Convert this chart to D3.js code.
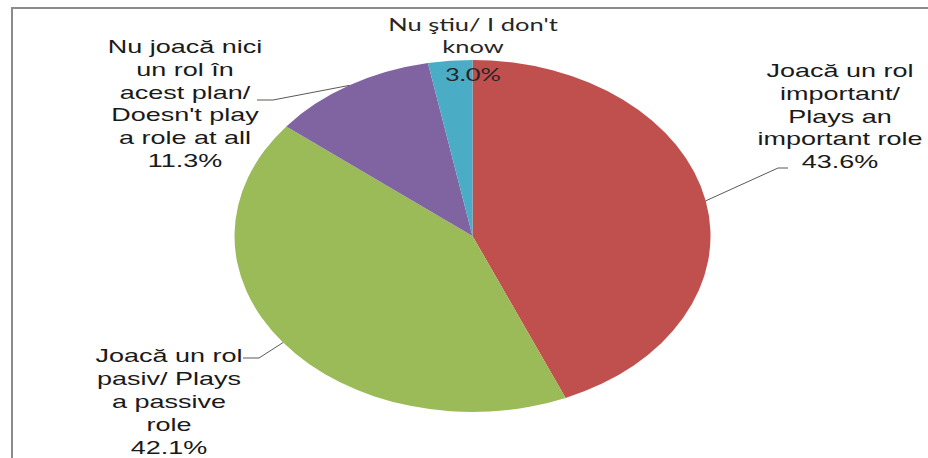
<!DOCTYPE html>
<html>
<head>
<meta charset="utf-8">
<script src="https://cdn.jsdelivr.net/npm/d3@7"></script>
<style>
  body { margin: 0; background: #fff; }
</style>
</head>
<body>
<div id="chart"></div>
<script>
var svgWidth = 928;
var svgHeight = 458;

// Data
var categories = ["important", "passive", "none", "dontknow"];
var values = [43.6, 42.1, 11.3, 3.0];
var colors = ["#C0504D", "#9BBB59", "#8064A2", "#4BACC6"];
var labelLines = [
  ["Joacă un rol", "important/", "Plays an", "important role", "43.6%"],
  ["Joacă un rol", "pasiv/ Plays", "a passive", "role", "42.1%"],
  ["Nu joacă nici", "un rol în", "acest plan/", "Doesn't play", "a role at all", "11.3%"],
  ["Nu ştiu/ I don't", "know", "3.0%"]
];

// Layout
var cx = 472.5, cy = 236;
var ry = 176, rx = 238;
var sx = rx / ry;
var textScale = 1.5;
var labelLayout = [
  { x: 840, y0: 77, dy: 22.8, font: "'Liberation Sans', Arial, sans-serif", size: 18, leader: [[788, 168], [778, 168]] },
  { x: 169, y0: 362, dy: 23, font: "'Liberation Sans', Arial, sans-serif", size: 18, leader: [[243, 358], [259, 358]] },
  { x: 185, y0: 53, dy: 22.8, font: "'Liberation Sans', Arial, sans-serif", size: 18, leader: [[257, 100], [273, 100]] },
  { x: 473, y0: 31, dy: 22, font: "Lato, 'Open Sans', sans-serif", size: 17, leader: null, lastY: 81 }
];

var svg = d3.select("#chart")
  .append("svg")
  .attr("width", svgWidth)
  .attr("height", svgHeight);

// frame
svg.append("path")
  .attr("d", "M12,458 L12,8 L928,8")
  .attr("fill", "none")
  .attr("stroke", "#8c8c8c")
  .attr("stroke-width", 2);

var pie = d3.pie().sort(null).value(d => d);
var arcs = pie(values);

var arc = d3.arc().innerRadius(0).outerRadius(ry);
var edgeArc = d3.arc().innerRadius(ry).outerRadius(ry);

var pieGroup = svg.append("g")
  .attr("transform", `translate(${cx}, ${cy}) scale(${sx}, 1)`);

pieGroup.selectAll("path")
  .data(arcs)
  .enter()
  .append("path")
  .attr("d", arc)
  .attr("fill", (d, i) => colors[i]);

// leader lines
arcs.forEach(function(d, i) {
  var lay = labelLayout[i];
  if (!lay.leader) return;
  var c = edgeArc.centroid(d);
  var end = [cx + c[0] * sx, cy + c[1]];
  var pts = lay.leader.concat([end]);
  svg.append("path")
    .attr("d", d3.line()(pts))
    .attr("fill", "none")
    .attr("stroke", "#595959")
    .attr("stroke-width", 1);
});

// labels
labelLines.forEach(function(lines, i) {
  var lay = labelLayout[i];
  var g = svg.append("g");
  lines.forEach(function(line, j) {
    var y = lay.y0 + j * lay.dy;
    if (lay.lastY && j === lines.length - 1) y = lay.lastY;
    g.append("text")
      .attr("transform", `translate(${lay.x}, ${y}) scale(${textScale}, 1)`)
      .attr("text-anchor", "middle")
      .attr("font-family", lay.font)
      .attr("font-size", lay.size + "px")
      .attr("fill", i === 3 ? "#262626" : "#1a1a1a")
      .text(line);
  });
});
</script>
</body>
</html>
